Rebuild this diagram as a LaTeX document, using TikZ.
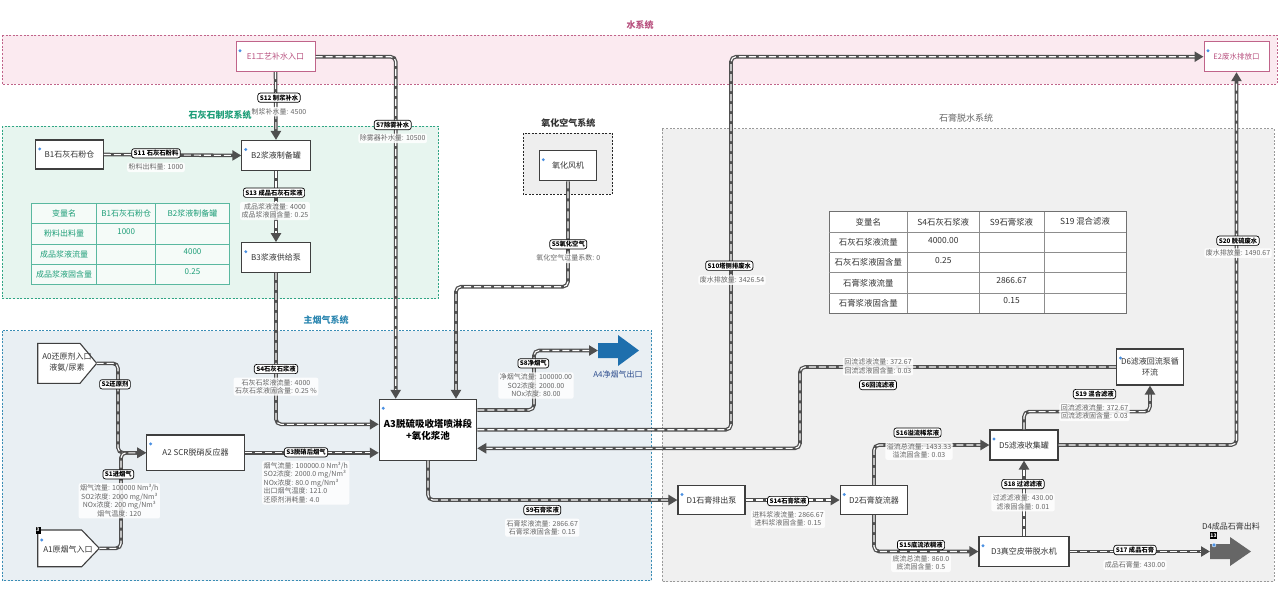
\documentclass[tikz,border=0pt]{standalone}
\usepackage{fontspec}
\setmainfont{Noto Sans CJK SC}
\usetikzlibrary{arrows.meta}
\definecolor{pipegray}{HTML}{4F4F4F}
\definecolor{boxline}{HTML}{3F3F3F}
\definecolor{txt}{HTML}{333333}
\definecolor{datagray}{HTML}{666666}
\definecolor{dotblue}{HTML}{4A90E2}
\definecolor{wfill}{HTML}{FBEAF0}
\definecolor{wline}{HTML}{C0648A}
\definecolor{wtext}{HTML}{B8507E}
\definecolor{lfill}{HTML}{E7F5EF}
\definecolor{lline}{HTML}{2FA584}
\definecolor{ltext}{HTML}{1E9E78}
\definecolor{mfill}{HTML}{E9EFF3}
\definecolor{mline}{HTML}{3A8DB5}
\definecolor{mtext}{HTML}{2B86B0}
\definecolor{gfill}{HTML}{F0F0F0}
\definecolor{gline}{HTML}{9A9A9A}
\definecolor{gtext}{HTML}{666666}
\definecolor{ofill}{HTML}{EEEEEE}
\definecolor{a4blue}{HTML}{1E6FAD}
\definecolor{a4text}{HTML}{2E4E8E}
\definecolor{d4gray}{HTML}{666666}
\definecolor{tline}{HTML}{5AB8A0}
\definecolor{gtab}{HTML}{707070}

\newcommand{\bluedot}[1]{\fill[dotblue] ([xshift=4.5pt,yshift=-9.5pt]#1.north west) circle[radius=1.6pt];}

\begin{document}
\begin{tikzpicture}[x=1pt,y=-1pt,
  region/.style={line width=0.8pt, dash pattern=on 2pt off 1.6pt},
  rtitle/.style={inner sep=0pt, font=\fontsize{9}{11}\selectfont},
  box/.style={draw=boxline, fill=white, line width=1.1pt, text=txt, align=center, inner sep=1pt, font=\fontsize{8}{10}\selectfont},
  pipe/.style={draw=pipegray, line width=3.6pt, rounded corners=5pt, -{Triangle[length=9pt,width=10pt]},
     postaction={draw=white, line width=1.1pt, dash pattern=on 7pt off 3pt, arrows=-, shorten >=9pt}},
  slab/.style={draw=black, fill=white, rounded corners=2.5pt, line width=0.7pt, text=black, inner xsep=2pt, inner ysep=1.6pt, font=\bfseries\fontsize{6.3}{7}\selectfont},
  sdata/.style={fill=white, fill opacity=0.85, text opacity=1, rounded corners=2pt, text=datagray, align=center, inner sep=1.5pt, font=\fontsize{7}{8.5}\selectfont},
  lcell/.style={inner sep=0pt, text=ltext, font=\fontsize{8}{10}\selectfont},
  gcell/.style={inner sep=0pt, text=txt, font=\fontsize{8.4}{10}\selectfont},
  badge/.style={fill=black, text=white, inner sep=0.6pt, minimum height=7pt, font=\bfseries\fontsize{5}{5}\selectfont},
]
\useasboundingbox (0,0) rectangle (1280,590);
\fill[white] (0,0) rectangle (1280,590);

% ---------- regions ----------
\draw[region, draw=wline, fill=wfill] (2,35) rectangle (1277,84);
\node[rtitle, text=wtext, font=\bfseries\fontsize{9}{11}\selectfont] (twater) at (640,25) {水系统};
\draw[region, draw=lline, fill=lfill] (2,126) rectangle (438.5,298.5);
\node[rtitle, text=ltext, font=\bfseries\fontsize{9}{11}\selectfont] (tlime) at (220,115) {石灰石制浆系统};
\draw[region, draw=mline, fill=mfill] (2,330.5) rectangle (651.5,580.5);
\node[rtitle, text=mtext, font=\bfseries\fontsize{9}{11}\selectfont] (tmain) at (326,320) {主烟气系统};
\draw[region, draw=gline, fill=gfill] (662,128.5) rectangle (1274,581.5);
\node[rtitle, text=gtext] (tgyp) at (966,118) {石膏脱水系统};
\draw[line width=1.3pt, dash pattern=on 2pt off 1.5pt, draw=black!85, fill=ofill] (523.3,133.3) rectangle (612.7,194.3);
\node[rtitle, text=txt, font=\bfseries\fontsize{9}{11}\selectfont] (tox) at (568.3,122.7) {氧化空气系统};

% ---------- lime table ----------
\draw[tline, line width=0.8pt, fill=white, fill opacity=0.6] (31.7,203.3) rectangle (229.3,284.3);
\foreach \y in {223.3,244,264} \draw[tline, line width=0.6pt] (31.7,\y) -- (229.3,\y);
\foreach \x in {96.7,155.7} \draw[tline, line width=0.6pt] (\x,203.3) -- (\x,284.3);
\node[lcell] (lt11) at (64.2,213.3) {变量名};
\node[lcell] (lt12) at (126.2,213.3) {B1石灰石粉仓};
\node[lcell] (lt13) at (192.5,213.3) {B2浆液制备罐};
\node[lcell] (lt21) at (64.2,233.7) {粉料出料量};
\node[lcell] (lt22) at (126.2,231.5) {1000};
\node[lcell] (lt31) at (64.2,254) {成品浆液流量};
\node[lcell] (lt33) at (192.5,252) {4000};
\node[lcell] (lt41) at (64.2,274.2) {成品浆液固含量};
\node[lcell] (lt43) at (192.5,272) {0.25};

% ---------- gypsum table ----------
\draw[gtab, line width=0.8pt, fill=white] (829,211.7) rectangle (1126,313);
\foreach \y in {232,252.3,272.7,293} \draw[gtab!80, line width=0.6pt] (829,\y) -- (1126,\y);
\foreach \x in {907.7,979,1044} \draw[gtab!80, line width=0.6pt] (\x,211.7) -- (\x,313);
\node[gcell] (gt11) at (868.3,221.8) {变量名};
\node[gcell] (gt12) at (943.3,221.8) {S4石灰石浆液};
\node[gcell] (gt13) at (1011.5,221.8) {S9石膏浆液};
\node[gcell] (gt14) at (1085,221.8) {S19 混合滤液};
\node[gcell] (gt21) at (868.3,242.2) {石灰石浆液流量};
\node[gcell] (gt22) at (943.3,240.7) {4000.00};
\node[gcell] (gt31) at (868.3,262.5) {石灰石浆液固含量};
\node[gcell] (gt32) at (943.3,260.7) {0.25};
\node[gcell] (gt41) at (868.3,282.8) {石膏浆液流量};
\node[gcell] (gt43) at (1011.5,280.7) {2866.67};
\node[gcell] (gt51) at (868.3,303) {石膏浆液固含量};
\node[gcell] (gt53) at (1011.5,300.7) {0.15};

% ---------- nodes ----------
\node[box, draw=wline, line width=1pt, text=wtext, minimum width=79pt, minimum height=30pt] (e1) at (275.5,56.7) {E1工艺补水入口};
\node[box, draw=wline, line width=1pt, text=wtext, minimum width=65pt, minimum height=30pt, font=\fontsize{7.5}{9}\selectfont] (e2) at (1236.5,56.7) {E2废水排放口};
\node[box, minimum width=67.6pt, minimum height=29pt] (b1) at (69.5,154.5) {B1石灰石粉仓};
\node[box, minimum width=68.3pt, minimum height=30pt] (b2) at (276,155.5) {B2浆液制备罐};
\node[box, minimum width=68.3pt, minimum height=29.6pt] (b3) at (276,257.5) {B3浆液供给泵};
\node[box, minimum width=97.6pt, minimum height=35.7pt] (a2) at (195.5,452.8) {A2 SCR脱硝反应器};
\node[box, minimum width=97.4pt, minimum height=60.7pt, text=black, font=\bfseries\fontsize{9.5}{12.7}\selectfont] (a3) at (428,429.7) {A3脱硫吸收塔喷淋段\\+氧化浆池};
\node[box, minimum width=57.4pt, minimum height=30pt] (fan) at (568,165.7) {氧化风机};
\node[box, minimum width=67pt, minimum height=29pt] (d1) at (711.5,500) {D1石膏排出泵};
\node[box, minimum width=67.5pt, minimum height=29pt] (d2) at (874,500) {D2石膏旋流器};
\node[box, minimum width=90pt, minimum height=29.5pt] (d3) at (1024,551.5) {D3真空皮带脱水机};
\node[box, minimum width=68pt, minimum height=30pt] (d5) at (1024,445) {D5滤液收集罐};
\node[box, minimum width=67pt, minimum height=36pt, font=\fontsize{8}{11}\selectfont] (d6) at (1150,367) {D6滤液回流泵循\\环流};

% pentagon inputs
\draw[boxline, line width=1.1pt, fill=white] (37.7,343.3) -- (80,343.3) -- (96.7,363.3) -- (80,383.3) -- (37.7,383.3) -- cycle;
\node[inner sep=0pt, text=txt, align=center, font=\fontsize{8}{11}\selectfont] (a0) at (67,362.5) {A0还原剂入口\\液氨/尿素};
\coordinate (a0tip) at (96.7,363.3);
\draw[boxline, line width=1.1pt, fill=white] (37.7,530) -- (81.7,530) -- (99.3,548.3) -- (81.7,566.7) -- (37.7,566.7) -- cycle;
\node[inner sep=0pt, text=txt, font=\fontsize{8}{10}\selectfont] (a1) at (68,549) {A1原烟气入口};
\coordinate (a1tip) at (99.3,548.3);
\node[badge, minimum width=5pt] (bga1) at (38,530) {3};
\fill[dotblue] (41.7,540) circle[radius=1.6pt];

% outlets
\fill[a4blue] (598,343) -- (618,343) -- (618,335) -- (639,350.5) -- (618,366) -- (618,358) -- (598,358) -- cycle;
\coordinate (a4) at (598,350.5);
\node[inner sep=0pt, text=a4text, font=\fontsize{8}{10}\selectfont] (a4lab) at (618,374) {A4净烟气出口};
\fill[d4gray] (1210,544) -- (1230,544) -- (1230,537) -- (1251,551.5) -- (1230,566) -- (1230,559) -- (1210,559) -- cycle;
\coordinate (d4) at (1210,551.5);
\node[inner sep=0pt, text=txt, font=\fontsize{8}{10}\selectfont] (d4lab) at (1231,526) {D4成品石膏出料};
\node[badge, minimum width=7pt] (bgd4) at (1213.5,535.8) {13};
\fill[dotblue, draw=white, line width=0.4pt] (1214,545) circle[radius=2pt];

% blue dots
\foreach \n in {e1,e2,b1,b2,b3,a2,a3,fan,d1,d2,d3,d5,d6} {\bluedot{\n}}

% ---------- pipes ----------
\draw[pipe] (e1.south) -- (b2.north);
\draw[pipe] (e1.east) -| ([xshift=-32.3pt]a3.north);
\draw[pipe] (b1.east) -- (b2.west);
\draw[pipe] (b2.south) -- (b3.north);
\draw[pipe] (b3.south) |- ([yshift=5.4pt]a3.west);
\draw[pipe] (a0tip) -| (118,452.8) -- (a2.west);
\draw[pipe] (a1tip) -| (121,452.8) -- (a2.west);
\draw[pipe] (a2.east) -- (a2.east -| a3.west);
\draw[pipe] (fan.south) |- (456,286.7) -- ([xshift=28pt]a3.north);
\draw[pipe] ([yshift=19.7pt]a3.east) -| (534,350.5) -- (a4);
\draw[pipe] (a3.east) -- (731,429.7) |- (e2.west);
\draw[pipe] (d6.west) -| (800,448.3) -- ([yshift=-18.6pt]a3.east);
\draw[pipe] (a3.south) |- (d1.west);
\draw[pipe] (d1.east) -- (d2.west);
\draw[pipe] (d2.north) |- (d5.west);
\draw[pipe] (d2.south) |- (d3.west);
\draw[pipe] (d3.east) -- (d4);
\draw[pipe] (d3.north) -- (d5.south);
\draw[pipe] (d5.north) -- (1024,411.6) -| (d6.south);
\draw[pipe] (d5.east) -| (e2.south);

% ---------- stream labels ----------
\node[slab] (l12) at (279,97.7) {S12 制浆补水};
\node[sdata] (v12) at (279,111.7) {制浆补水量: 4500};
\node[slab] (l7) at (392.7,125) {S7除雾补水};
\node[sdata] (v7) at (392.7,138.3) {除雾器补水量: 10500};
\node[slab] (l11) at (156,153.3) {S11 石灰石粉料};
\node[sdata] (v11) at (156,167.3) {粉料出料量: 1000};
\node[slab] (l13) at (274,192.7) {S13 成品石灰石浆液};
\node[sdata] (v13) at (275,211) {成品浆液流量: 4000\\成品浆液固含量: 0.25};
\node[slab] (l4) at (276,369) {S4石灰石浆液};
\node[sdata] (v4) at (276,386.7) {石灰石浆液流量: 4000\\石灰石浆液固含量: 0.25 \%};
\node[slab] (l2) at (115,384.3) {S2还原剂};
\node[slab] (l1) at (118.3,474.3) {S1进烟气};
\node[sdata] (v1) at (119.3,500.8) {烟气流量: 100000 Nm³/h\\SO2浓度: 2000 mg/Nm³\\NOx浓度: 200 mg/Nm³\\烟气温度: 120};
\node[slab] (l3) at (306,452.3) {S3脱硝后烟气};
\node[sdata, align=left, anchor=north west] (v3) at (262,460.5) {烟气流量: 100000.0 Nm³/h\\SO2浓度: 2000.0 mg/Nm³\\NOx浓度: 80.0 mg/Nm³\\出口烟气温度: 121.0\\还原剂消耗量: 4.0};
\node[slab] (l5) at (568.3,244.3) {S5氧化空气};
\node[sdata] (v5) at (568.3,258.3) {氧化空气过量系数: 0};
\node[slab] (l8) at (533.3,363.3) {S8净烟气};
\node[sdata] (v8) at (536,385.5) {净烟气流量: 100000.00\\SO2浓度: 2000.00\\NOx浓度: 80.00};
\node[slab] (l10) at (729.3,265.7) {S10塔侧排废水};
\node[sdata] (v10) at (732,280) {废水排放量: 3426.54};
\node[slab] (l6) at (878,385) {S6回流滤液};
\node[sdata] (v6) at (878,366.3) {回流滤液流量: 372.67\\回流滤液固含量: 0.03};
\node[slab] (l9) at (542.3,510) {S9石膏浆液};
\node[sdata] (v9) at (542.3,527.7) {石膏浆液流量: 2866.67\\石膏浆液固含量: 0.15};
\node[slab] (l14) at (788,501) {S14石膏浆液};
\node[sdata] (v14) at (788,519) {进料浆液流量: 2866.67\\进料浆液固含量: 0.15};
\node[slab] (l16) at (917.5,432.6) {S16溢流稀浆液};
\node[sdata] (v16) at (919,450.8) {溢流总流量: 1433.33\\溢流固含量: 0.03};
\node[slab] (l15) at (921,545) {S15底流浓稠液};
\node[sdata] (v15) at (921,563) {底流总流量: 860.0\\底流固含量: 0.5};
\node[slab] (l17) at (1135,550) {S17 成品石膏};
\node[sdata] (v17) at (1135,565) {成品石膏量: 430.00};
\node[slab] (l18) at (1023,484) {S18 过滤滤液};
\node[sdata] (v18) at (1023,502.3) {过滤滤液量: 430.00\\滤液固含量: 0.01};
\node[slab] (l19) at (1094.5,394) {S19 混合滤液};
\node[sdata] (v19) at (1094.5,412) {回流滤液流量: 372.67\\回流滤液固含量: 0.03};
\node[slab] (l20) at (1238,240.7) {S20 脱硫废水};
\node[sdata] (v20) at (1238,253) {废水排放量: 1490.67};
\end{tikzpicture}
\end{document}
